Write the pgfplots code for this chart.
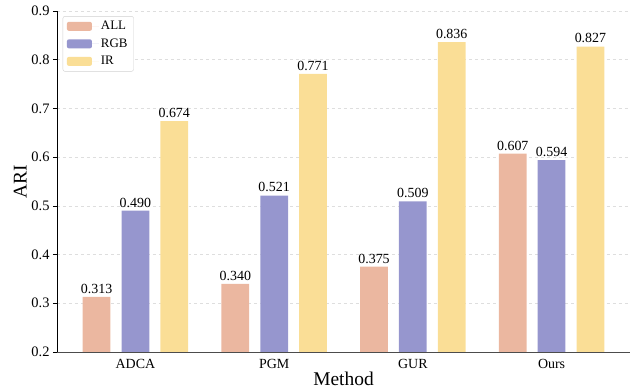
\documentclass[border=0pt]{standalone}
\usepackage{fontspec}
\setmainfont{Liberation Serif}
\usepackage{pgfplots}
\pgfplotsset{compat=1.18}
\definecolor{cALL}{RGB}{235,183,160}
\definecolor{cRGB}{RGB}{150,150,206}
\definecolor{cIR}{RGB}{250,222,150}
\begin{document}
\begin{tikzpicture}
\begin{axis}[
  scale only axis, width=573bp, height=341bp,
  ybar=0pt,
  ymin=0.2, ymax=0.9, ytick={0.2,0.3,0.4,0.5,0.6,0.7,0.8,0.9},
  xmin=-0.565, xmax=3.565,
  xtick={0,1,2,3}, xticklabels={ADCA,PGM,GUR,Ours},
  axis x line*=bottom, axis y line*=left,
  x axis line style={draw=black!70, -},
  y axis line style={draw=black, -},
  xtick style={draw=none},
  ytick style={draw=black, line width=0.6pt},
  tick align=outside, major tick length=4bp,
  ymajorgrids, grid style={dashed, draw=black!13, line width=0.6pt},
  /pgf/number format/assume math mode=true,
  yticklabel style={font=\fontsize{14.5}{16}\selectfont, /pgf/number format/.cd, fixed, precision=1},
  xticklabel style={font=\fontsize{14}{16}\selectfont},
  ylabel={ARI}, xlabel={Method},
  label style={font=\fontsize{19.5}{22}\selectfont},
  ylabel style={yshift=-2bp},
  xlabel style={yshift=4bp},
  bar width=0.2,
  nodes near coords,
  every node near coord/.append style={font=\fontsize{14}{16}\selectfont, black, /pgf/number format/.cd, fixed, zerofill, precision=3, assume math mode=true},
  legend style={at={(rel axis cs:0.010,0.985)}, anchor=north west, draw=black!18, rounded corners=2pt,
    font=\fontsize{13}{15}\selectfont, row sep=3.5bp, inner xsep=4bp, inner ysep=3bp},
  legend image code/.code={\path (0bp,0bp) -- (32bp,0bp); \fill[#1] (0bp,-4.5bp) rectangle (25bp,4.5bp);},
  legend cell align=left,
]
\addplot[fill=cALL, draw=none, bar shift=-0.28] coordinates {(0,0.313) (1,0.340) (2,0.375) (3,0.607)};
\addplot[fill=cRGB, draw=none, bar shift=0] coordinates {(0,0.490) (1,0.521) (2,0.509) (3,0.594)};
\addplot[fill=cIR, draw=none, bar shift=0.28] coordinates {(0,0.674) (1,0.771) (2,0.836) (3,0.827)};
\legend{ALL,RGB,IR}
\coordinate (bl) at (rel axis cs:0,0);
\coordinate (tr) at (rel axis cs:1,1);
\end{axis}
\pgfresetboundingbox
\path[use as bounding box] ([xshift=-57bp,yshift=-40bp]bl) rectangle ([xshift=4bp,yshift=11bp]tr);
\end{tikzpicture}
\end{document}
